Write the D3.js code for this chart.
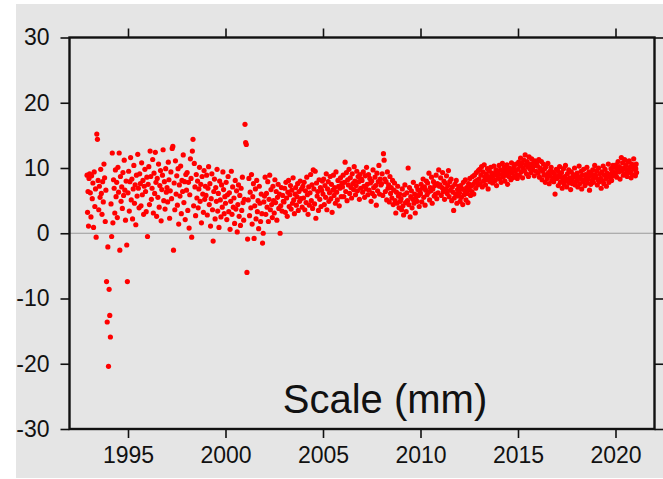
<!DOCTYPE html>
<html>
<head>
<meta charset="utf-8">
<script src="https://cdn.jsdelivr.net/npm/d3@7"></script>
<style>
  body { margin: 0; background: #fff; }
  text { font-family: "Liberation Sans", Arial, Helvetica, sans-serif; fill: #111; }
</style>
</head>
<body>
<div id="chart"></div>
<script>
// Scale time series, one list of samples per segment (segments start at segStart[i])
var segStart = [1992.9, 1993, 1994, 1995, 1996, 1997, 1998, 1999, 2000, 2001, 2002, 2003,
    2004, 2005, 2006, 2007, 2008, 2009, 2010, 2011, 2012, 2013, 2014, 2015, 2016, 2017,
    2018, 2019, 2020, 2021, 2021.1];

var scaleMm = [
    [8.9, 3.2, 6.4, 1.1],
    [8.4, 9.1, 6.2, 2.5, 8.8, 5.3, 7.7, 0.9, 9.4, 4.1, 6.8, -0.6, 15.2, 14.4, 8.1, 3.6, 7.2, 5.5, 9.8, 6.1, 2.9, 7.9, 4.8, 10.6, 8.5, 1.8, 6.6, -7.4, -13.6, -2.1],
    [-20.4, -8.6, -12.6, -15.9, 4.5, -0.5, 12.3, 1.6, 8.2, 6.9, 3.1, 9.7, 5.6, 7.8, 2.4, 10.1, 6.3, 12.3, -2.6, 8.7, 4.9, 7.1, 3.8, 9.3, 5.8, 11.2, 6.6, 2.0, 8.0, -1.8, -7.4],
    [6.2, 9.5, 3.4, 7.9, 11.6, 5.1, 8.3, 2.2, 6.8, 10.4, 4.6, 7.4, 1.3, 8.9, 5.7, 12.1, 6.9, 3.9, 9.1, 7.6, 4.2, 10.8, 5.9, 8.1, 2.9, 7.2, 9.8, 6.4, 3.3, 8.6],
    [-0.5, 7.5, 10.2, 4.4, 12.6, 8.7, 5.2, 6.9, 11.3, 3.1, 9.2, 6.1, 12.4, 7.8, 2.6, 8.4, 5.5, 10.6, 4.0, 7.3, 9.6, 1.9, 6.7, 8.9, 12.8, 5.0, 7.9, 3.7, 9.9, 6.3],
    [7.0, 4.8, 10.9, 8.2, 2.3, 6.5, 9.4, 5.3, 13.0, 13.3, -2.6, 7.7, 3.6, 11.1, 6.0, 8.8, 4.3, 9.9, 1.4, 7.4, 5.7, 10.3, 3.0, 8.1, 6.4, 12.0, 4.7, 7.9, 2.1, 9.0],
    [6.6, 9.3, 3.5, 7.8, 0.8, 5.9, 11.4, 8.4, -0.6, 12.6, 14.4, 4.2, 10.7, 7.1, 2.7, 9.0, 5.4, 8.0, 3.9, 6.8, 10.1, 4.9, 7.5, 1.6, 8.7, 6.0, 3.2, 9.6, 5.2, 7.2],
    [5.8, 8.9, 2.8, 6.9, 10.2, 4.4, 7.6, 1.1, 5.3, 9.1, 3.6, -1.2, 6.4, 8.3, 2.2, 7.0, 4.9, 9.8, 3.4, 6.1, 0.9, 8.0, 5.1, 2.5, 7.4, 4.0, 9.4, 6.7, 3.0, 5.6],
    [4.6, 7.8, 2.1, 5.9, 8.7, 3.3, 6.2, 0.6, 4.9, 9.5, 2.9, 7.1, 4.0, 5.4, 1.5, 8.1, 3.7, 6.5, 0.2, 4.4, 7.4, 2.6, 5.8, 1.2, 6.9, 3.5, 8.6, 4.7, 2.0, 5.2],
    [16.7, 13.9, 13.6, -6.0, -0.9, 5.1, 8.4, 2.7, 6.3, 3.9, 9.0, 1.4, 5.6, 7.6, -0.8, 4.2, 6.8, 2.2, 8.1, 3.3, 5.0, 0.7, 7.2, 4.6, 1.8, 6.0, 3.0, -1.5, 0.0, 4.8],
    [5.7, 8.6, 2.9, 6.1, 4.0, 7.9, 1.8, 5.2, 8.9, 3.6, 6.7, 4.4, 2.4, 7.2, 5.0, 3.1, 8.2, 4.7, 6.4, 2.0, 5.5, 7.5, 3.8, 6.0, 0.0, 4.2, 7.0, 3.4, 5.8, 4.9],
    [4.8, 6.9, 3.2, 7.8, 5.4, 2.6, 6.3, 8.1, 4.1, 5.9, 7.3, 3.7, 6.6, 4.6, 8.5, 5.1, 3.0, 6.0, 7.0, 4.3, 5.6, 7.6, 3.5, 6.4, 4.9, 8.0, 5.3, 6.8, 4.0, 7.2],
    [5.4, 7.8, 3.6, 6.5, 4.7, 8.6, 5.9, 2.9, 7.1, 4.3, 6.2, 9.0, 5.0, 7.4, 3.8, 9.7, 6.8, 4.5, 9.5, 2.3, 7.7, 5.7, 6.4, 3.5, 8.2, 5.2, 7.0, 4.1, 6.6, 8.0],
    [6.0, 8.3, 4.4, 7.3, 5.5, 9.1, 3.6, 6.8, 7.9, 4.9, 6.2, 8.7, 5.3, 7.5, 3.2, 6.6, 8.9, 5.8, 7.0, 4.6, 9.4, 6.3, 5.1, 8.1, 7.2, 4.2, 6.9, 8.5, 5.6, 7.7],
    [7.1, 8.9, 5.6, 7.8, 10.9, 6.4, 9.3, 5.0, 8.2, 7.4, 9.8, 6.1, 8.5, 7.0, 5.4, 9.1, 7.6, 6.7, 10.2, 8.0, 5.9, 7.3, 9.5, 6.5, 8.7, 7.9, 5.2, 9.0, 6.9, 8.3],
    [8.1, 6.3, 9.4, 7.2, 5.5, 8.8, 6.8, 10.1, 7.5, 5.9, 9.0, 6.6, 8.4, 7.7, 4.9, 8.0, 6.1, 9.7, 7.0, 5.7, 8.6, 7.3, 4.3, 9.2, 6.5, 7.9, 10.4, 6.0, 8.3, 7.4],
    [7.6, 9.1, 5.8, 12.2, 11.2, 8.3, 6.4, 7.9, 5.1, 9.4, 6.9, 7.4, 4.8, 8.7, 6.1, 7.0, 5.4, 8.1, 4.4, 6.6, 7.7, 5.0, 3.1, 6.3, 4.6, 7.2, 5.7, 3.9, 6.0, 4.9],
    [5.3, 3.6, 6.8, 4.2, 2.8, 5.9, 7.4, 4.7, 3.3, 6.2, 5.0, 10.0, 4.4, 7.0, 2.5, 5.6, 6.5, 3.9, 5.2, 7.8, 4.6, 6.0, 3.1, 5.5, 7.2, 4.9, 6.7, 5.8, 4.1, 6.4],
    [6.1, 7.5, 4.8, 6.9, 8.3, 5.5, 7.1, 4.3, 6.6, 8.0, 5.9, 7.7, 6.3, 9.2, 5.1, 7.0, 6.5, 8.6, 4.6, 6.8, 7.9, 5.7, 7.3, 6.0, 8.9, 5.3, 7.6, 6.2, 9.7, 7.2],
    [7.4, 8.5, 5.8, 7.0, 9.3, 6.4, 8.0, 5.2, 7.7, 6.8, 8.8, 6.1, 7.3, 9.6, 5.6, 7.9, 6.6, 8.3, 5.0, 7.1, 6.3, 3.5, 5.4, 7.5, 6.0, 8.1, 4.6, 6.7, 5.7, 7.2],
    [6.2, 4.9, 7.3, 5.5, 6.8, 4.4, 7.8, 5.9, 6.5, 8.2, 5.1, 7.0, 6.1, 4.7, 7.6, 6.7, 8.4, 5.8, 7.2, 6.4, 8.7, 7.5, 6.0, 8.9, 7.9, 6.9, 9.3, 8.1, 7.4, 9.6],
    [8.3, 9.8, 7.6, 8.9, 10.2, 7.1, 9.4, 8.0, 10.5, 8.6, 7.4, 9.1, 8.2, 9.9, 6.8, 8.7, 9.5, 7.9, 10.1, 8.4, 9.2, 7.7, 8.8, 10.3, 9.0, 8.1, 9.7, 7.3, 9.3, 8.5],
    [9.1, 10.4, 8.3, 9.7, 7.8, 9.0, 10.7, 8.6, 9.4, 10.1, 8.0, 9.8, 8.9, 10.5, 7.5, 9.3, 8.7, 10.0, 9.5, 8.2, 10.8, 9.2, 8.5, 9.9, 10.3, 8.8, 9.6, 10.6, 9.0, 8.4],
    [9.8, 10.9, 8.9, 10.3, 11.5, 9.4, 10.7, 8.5, 10.0, 11.2, 9.6, 12.0, 10.5, 9.1, 11.0, 10.2, 8.7, 11.7, 9.9, 10.6, 9.3, 11.4, 10.1, 9.7, 10.8, 8.8, 11.1, 10.4, 9.5, 10.9],
    [10.3, 9.2, 11.3, 8.6, 10.0, 9.7, 11.0, 8.2, 9.5, 10.6, 8.9, 9.9, 7.8, 10.2, 9.0, 8.4, 10.7, 9.3, 7.6, 8.8, 9.6, 10.1, 8.1, 9.4, 8.5, 7.9, 9.1, 6.0, 8.7, 9.8],
    [8.4, 9.6, 7.3, 8.9, 10.2, 7.8, 8.6, 9.3, 6.9, 8.1, 9.9, 7.5, 8.7, 10.4, 8.0, 7.1, 9.1, 8.3, 9.7, 7.7, 8.5, 6.7, 9.4, 8.2, 7.6, 9.0, 8.8, 10.0, 7.4, 8.6],
    [8.0, 9.2, 7.1, 8.7, 10.3, 7.6, 8.4, 9.5, 6.8, 8.9, 7.9, 9.8, 8.2, 7.3, 9.0, 8.6, 10.1, 7.7, 8.3, 9.4, 6.6, 8.8, 7.5, 9.1, 8.1, 9.7, 7.8, 8.5, 10.4, 9.0],
    [8.7, 9.6, 7.4, 8.2, 10.0, 7.9, 9.1, 8.4, 6.9, 9.4, 8.0, 10.3, 7.6, 8.9, 9.8, 8.3, 7.2, 9.2, 8.6, 10.6, 7.8, 9.0, 8.5, 9.9, 8.1, 9.5, 10.4, 8.8, 9.3, 10.1],
    [9.2, 10.5, 8.6, 9.8, 11.0, 9.4, 10.2, 8.3, 9.9, 11.6, 9.6, 10.8, 8.9, 10.0, 11.3, 9.1, 10.4, 9.7, 8.7, 10.9, 9.3, 11.1, 10.1, 9.5, 8.5, 10.6, 9.0, 10.3, 11.4, 9.8],
    [10.2, 8.8, 9.9, 10.6, 9.3]
];

var xTicks = [1995, 2000, 2005, 2010, 2015, 2020];
var yTicks = [30, 20, 10, 0, -10, -20, -30];
var titleText = "Scale (mm)";

// flatten segments into points, samples evenly spaced inside each segment
var points = [];
scaleMm.forEach(function (vals, i) {
    var t0 = segStart[i], t1 = segStart[i + 1];
    vals.forEach(function (v, j) {
        points.push({ t: t0 + (t1 - t0) * j / vals.length, v: v });
    });
});

var width = 663, height = 479;
var plotLeft = 69.5, plotRight = 654.5, plotTop = 37.5, plotBottom = 429;

var svg = d3.select("#chart").append("svg")
    .attr("width", width)
    .attr("height", height);

// gray page background
svg.append("rect")
    .attr("x", 16).attr("y", 4)
    .attr("width", width - 16).attr("height", 474)
    .attr("fill", "#e5e5e5");

var x = d3.scaleLinear().domain([1992, 2022]).range([plotLeft, plotRight]);
var y = d3.scaleLinear().domain([-30, 30]).range([plotBottom, plotTop]);

// zero line
svg.append("line")
    .attr("x1", plotLeft).attr("x2", plotRight)
    .attr("y1", y(0)).attr("y2", y(0))
    .attr("stroke", "#9a9a9a")
    .attr("stroke-width", 1.2);

// dots
svg.append("g")
    .selectAll("circle")
    .data(points)
    .enter()
    .append("circle")
    .attr("cx", function (d) { return x(d.t); })
    .attr("cy", function (d) { return y(d.v); })
    .attr("r", 2.6)
    .attr("fill", "#ff0000");

// plain hyphen for negatives, like the original
var plain = function (d) { return String(d); };

// axes on all four sides, labels only left and bottom
var tickLen = 9;
var axB = svg.append("g").attr("transform", "translate(0," + plotBottom + ")")
    .call(d3.axisBottom(x).tickValues(xTicks).tickSize(tickLen).tickPadding(9).tickFormat(plain));
var axT = svg.append("g").attr("transform", "translate(0," + plotTop + ")")
    .call(d3.axisTop(x).tickValues(xTicks).tickSize(tickLen).tickFormat(""));
var axL = svg.append("g").attr("transform", "translate(" + plotLeft + ",0)")
    .call(d3.axisLeft(y).tickValues(yTicks).tickSize(tickLen).tickPadding(11).tickFormat(plain));
var axR = svg.append("g").attr("transform", "translate(" + plotRight + ",0)")
    .call(d3.axisRight(y).tickValues(yTicks).tickSize(tickLen).tickFormat(""));

[axB, axT, axL, axR].forEach(function (a) {
    a.select(".domain").remove();
    a.selectAll(".tick line").attr("stroke", "#111").attr("stroke-width", 1.6);
    a.selectAll("text")
        .style("font-family", "'Liberation Sans', Arial, sans-serif")
        .style("font-size", "23px")
        .attr("fill", "#111");
});

// frame
svg.append("rect")
    .attr("x", plotLeft).attr("y", plotTop)
    .attr("width", plotRight - plotLeft).attr("height", plotBottom - plotTop)
    .attr("fill", "none")
    .attr("stroke", "#111")
    .attr("stroke-width", 2.4);

svg.append("text")
    .attr("x", 385)
    .attr("y", 413)
    .attr("text-anchor", "middle")
    .style("font-size", "40px")
    .text(titleText);
</script>
</body>
</html>
